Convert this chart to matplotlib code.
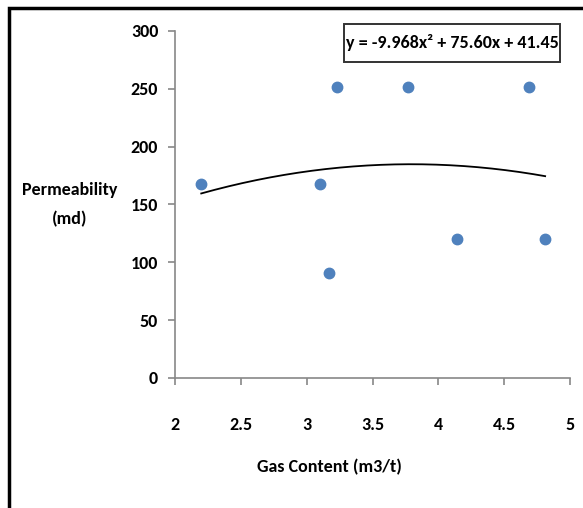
import numpy as np
import matplotlib
matplotlib.use("Agg")
import matplotlib.pyplot as plt
from matplotlib.lines import Line2D
from matplotlib.patches import Rectangle

plt.rcParams['font.family'] = ['Carlito', 'Roboto Condensed', 'Asap Condensed', 'DejaVu Sans']
plt.rcParams['font.weight'] = 'bold'

gas_content = [2.2, 3.1, 3.23, 3.17, 3.77, 4.14, 4.69, 4.81]
permeability = [168, 168, 252, 91, 252, 120, 252, 120]

# trendline coefficients (from the equation on the chart)
coef = [-9.968, 75.60, 41.45]
eq_label = "y = -9.968x\u00b2 + 75.60x + 41.45"

xticks = [2, 2.5, 3, 3.5, 4, 4.5, 5]
xticklabels = ['2', '2.5', '3', '3.5', '4', '4.5', '5']
yticks = [0, 50, 100, 150, 200, 250, 300]

fig = plt.figure(figsize=(5.83, 5.08), dpi=100)
ax = fig.add_axes([0.300, 0.256, 0.678, 0.683])

ax.plot(gas_content, permeability, 'o', color='#4F81BD', ms=7.5, mec='#4F81BD', zorder=3)

xs = np.linspace(min(gas_content), max(gas_content), 200)
ax.plot(xs, np.polyval(coef, xs), color='black', lw=1.3, zorder=2)

ax.set_xlim(2, 5)
ax.set_ylim(0, 300)
ax.set_xticks(xticks)
ax.set_xticklabels(xticklabels)
ax.set_yticks(yticks)

for side in ['top', 'right']:
    ax.spines[side].set_visible(False)
for side in ['left', 'bottom']:
    ax.spines[side].set_color('#888888')
    ax.spines[side].set_linewidth(1.2)
ax.tick_params(axis='both', colors='#888888', length=5, width=1.2, labelsize=13, labelcolor='black')
ax.tick_params(axis='x', pad=23)
ax.tick_params(axis='y', pad=7)

ax.set_xlabel('Gas Content (m3/t)', fontsize=13, fontweight='bold')
ax.xaxis.set_label_coords(0.392, -0.232)
fig.text(0.12, 0.597, 'Permeability\n(md)', fontsize=13, fontweight='bold',
         ha='center', va='center', linespacing=1.95)

# equation box
fig.add_artist(Rectangle((0.590, 0.878), 0.3705, 0.0748, transform=fig.transFigure,
                         fc='white', ec='#333333', lw=1.4, zorder=4))
fig.text(0.7753, 0.9154, eq_label, fontsize=13, fontweight='bold', ha='center', va='center', zorder=5)

# outer frame (top and left only)
fig.add_artist(Line2D([0.015, 0.015, 1.0], [0.0, 0.984, 0.984], color='black', lw=2.5,
                      solid_joinstyle='miter', solid_capstyle='butt', transform=fig.transFigure))

plt.savefig('out.png', dpi=100)
